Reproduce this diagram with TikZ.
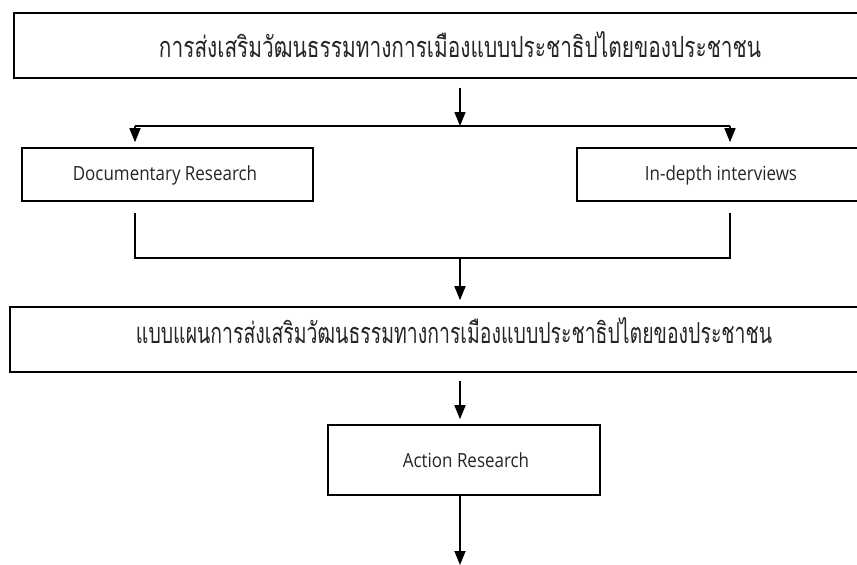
\documentclass[tikz,border=0pt]{standalone}
\usepackage{fontspec}
\setmainfont[FakeStretch=0.87]{Open Sans}
\newfontfamily\thaifont[Script=Thai]{Loma}
\usetikzlibrary{arrows.meta}
\tikzset{
  box/.style={draw=black, line width=1.6pt, fill=white, inner sep=0pt},
  lbl/.style={font=\fontsize{19.5}{22}\selectfont, text=black!85, inner sep=0pt},
  thai/.style={font=\thaifont\fontsize{15}{18}\selectfont, text=black!85, inner sep=0pt},
  conn/.style={line width=1.5pt},
  arr/.style={line width=1.5pt, -{Triangle[length=14pt,width=11pt]}}
}
\begin{document}
\begin{tikzpicture}[x=1pt,y=-1pt]
\useasboundingbox (0,0) rectangle (857,565);
\clip (0,0) rectangle (857,565);
\fill[white] (0,0) rectangle (857,565);
% boxes
\node[box, minimum width=892pt, minimum height=65pt] (b1) at (460,45.5) {};
\node[thai] (t1) at (460,45) {\resizebox{602pt}{26pt}{การส่งเสริมวัฒนธรรมทางการเมืองแบบประชาธิปไตยของประชาชน}};
\node[box, minimum width=291pt, minimum height=53pt] (doc) at (167.5,174.5) {};
\node[lbl] (tdoc) at (165,175) {Documentary Research};
\node[box, minimum width=288pt, minimum height=53pt] (ind) at (721,174.5) {};
\node[lbl] (tind) at (721,175) {In-depth interviews};
\node[box, minimum width=900pt, minimum height=65pt] (b3) at (460,339.5) {};
\node[thai] (t3) at (454,331) {\resizebox{636pt}{26pt}{แบบแผนการส่งเสริมวัฒนธรรมทางการเมืองแบบประชาธิปไตยของประชาชน}};
\node[box, minimum width=272pt, minimum height=70pt] (act) at (464,460) {};
\node[lbl] (tact) at (466,460) {Action Research};
% coordinates
\coordinate (s1) at (460,126);
\coordinate (l1) at (135,126);
\coordinate (r1) at (730,126);
\coordinate (l2) at (135,258);
\coordinate (r2) at (730,258);
\coordinate (m2) at (460,258);
\coordinate (endp) at (460,565);
% connectors
\draw[arr, shorten <=9pt] (b1.south -| s1) -- (s1);
\draw[conn] (l1) -- (r1);
\draw[arr, shorten >=5pt] (l1) -- (l1 |- doc.north);
\draw[arr, shorten >=5pt] (r1) -- (r1 |- ind.north);
\draw[conn] (l2 |- doc.south) ++(0,11) -- (l2) -- (r2) -- ([yshift=-11pt]r2 |- ind.south);
\draw[arr, shorten >=6pt] (m2) -- (m2 |- b3.north);
\draw[arr, shorten <=8pt, shorten >=5pt] (b3.south -| m2) -- (m2 |- act.north);
\draw[arr] (act.south -| m2) -- (endp);
\end{tikzpicture}
\end{document}
